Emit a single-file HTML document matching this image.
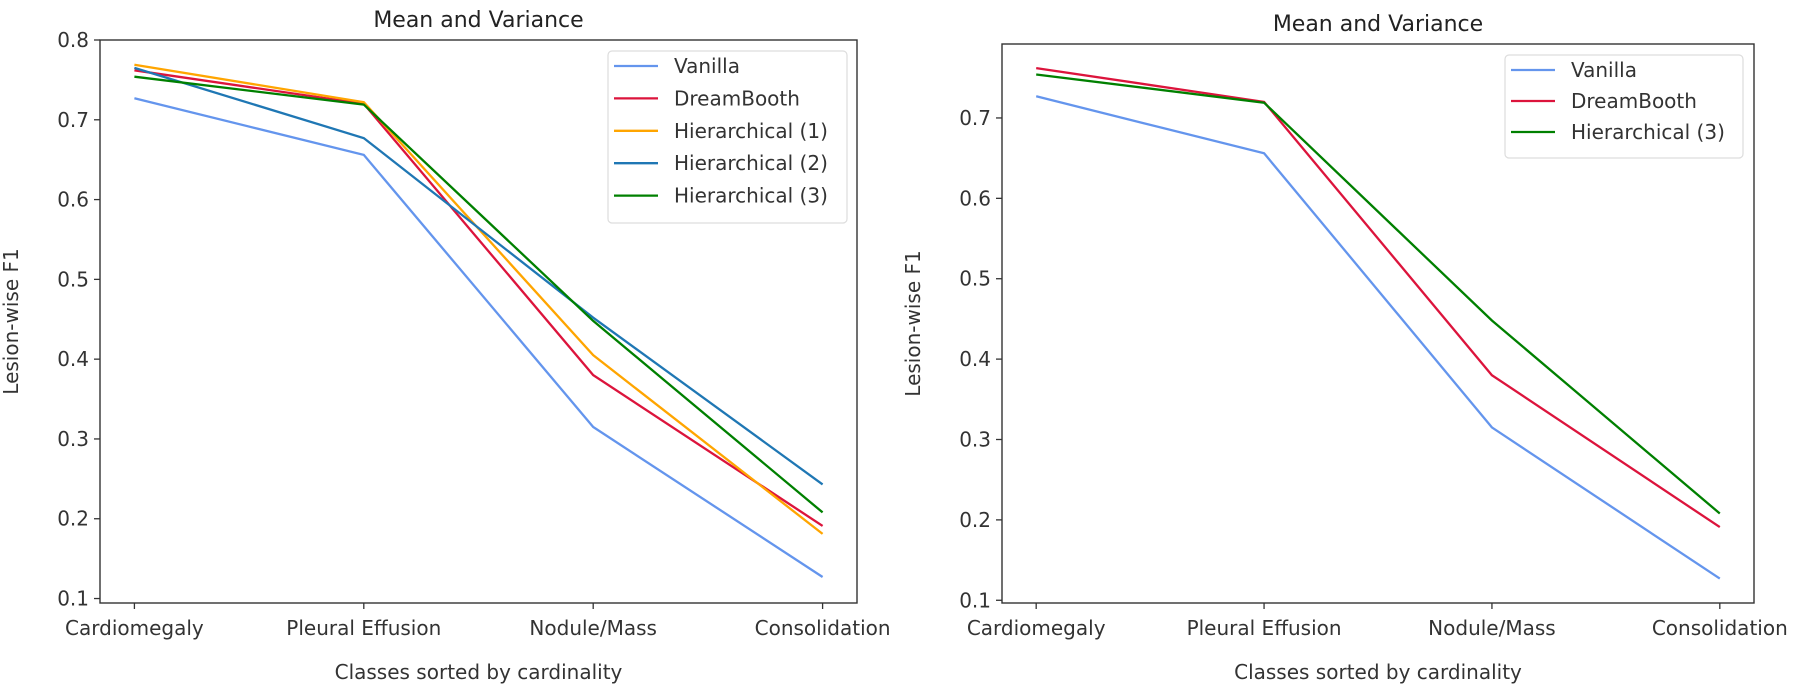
<!DOCTYPE html>
<html><head><meta charset="utf-8"><style>
html,body{margin:0;padding:0;background:#fff;}
svg{display:block;font-family:"DejaVu Sans","Liberation Sans",sans-serif;}
</style></head><body>
<svg id="fig" width="1800" height="689" viewBox="0 0 1800 689"></svg>
<script>
const categories = ["Cardiomegaly","Pleural Effusion","Nodule/Mass","Consolidation"];
const yTicks = [0.1,0.2,0.3,0.4,0.5,0.6,0.7,0.8];
const rightYTicks = [0.1,0.2,0.3,0.4,0.5,0.6,0.7];
const vanilla = [0.727,0.656,0.315,0.127];
const dreambooth = [0.762,0.720,0.380,0.191];
const hier1 = [0.769,0.722,0.405,0.181];
const hier2 = [0.765,0.677,0.452,0.243];
const hier3 = [0.754,0.719,0.448,0.208];
const seriesNames = ["Vanilla","DreamBooth","Hierarchical (1)","Hierarchical (2)","Hierarchical (3)"];
const seriesColors = ["#6495ED","#DC143C","#FFA500","#1f77b4","#008000"];

const NS="http://www.w3.org/2000/svg";
const svg=document.getElementById('fig');
function mk(tag,attrs,parent){const e=document.createElementNS(NS,tag);for(const k in attrs)e.setAttribute(k,attrs[k]);(parent||svg).appendChild(e);return e;}
function txt(s,attrs,parent){const e=mk('text',attrs,parent);e.textContent=s;return e;}

function drawPanel(cfg){
  const g=mk('g',{});
  
  
  const {x0,x1,y0,y1,ymin,ymax}=cfg;
  const xs=i=>x0+(x1-x0)*(i-(-0.15))/3.3;
  const ys=v=>y1-(y1-y0)*(v-ymin)/(ymax-ymin);
  const t=txt('Mean and Variance',{x:(x0+x1)/2,y:y0-13,'text-anchor':'middle','font-size':22,fill:'#222'},g);
  
  
  cfg.yt.forEach(v=>{
    const y=ys(v);
    mk('line',{x1:x0-6,x2:x0,y1:y,y2:y,stroke:'#333','stroke-width':1.3},g);
    const l=txt(v.toFixed(1),{x:x0-11,y:y+7,'text-anchor':'end','font-size':20,fill:'#333'},g);
    
    
  });
  categories.forEach((c,i)=>{
    const x=xs(i);
    mk('line',{x1:x,x2:x,y1:y1,y2:y1+6,stroke:'#333','stroke-width':1.3},g);
    const l=txt(c,{x:x,y:y1+32,'text-anchor':'middle','font-size':20,fill:'#333'},g);
    
    
  });
  const xl=txt('Classes sorted by cardinality',{x:(x0+x1)/2,y:y1+76,'text-anchor':'middle','font-size':20,fill:'#333'},g);
  
  
  const yl=txt('Lesion-wise F1',{x:0,y:0,'text-anchor':'middle','font-size':20,fill:'#333',transform:`translate(${x0-82},${(y0+y1)/2}) rotate(-90)`},g);
  
  
  cfg.series.forEach(s=>{
    const pts=s.vals.map((v,i)=>xs(i).toFixed(1)+','+ys(v).toFixed(1)).join(' ');
    const p=mk('polyline',{points:pts,fill:'none',stroke:seriesColors[s.idx],'stroke-width':2.3},g);
    
    
  });
  mk('rect',{x:x0,y:y0,width:x1-x0,height:y1-y0,fill:'none',stroke:'#333','stroke-width':1.4},g);
  const L=cfg.legend;
  const lg=mk('g',{},g);
  
  
  mk('rect',{x:L.x,y:L.y,width:L.w,height:L.rowH*cfg.series.length+10,rx:4,fill:'#fff','fill-opacity':0.8,stroke:'#ddd','stroke-width':1.2},lg);
  cfg.series.forEach((s,k)=>{
    const cy=L.y+15+k*L.rowH;
    mk('line',{x1:L.x+6,x2:L.x+50,y1:cy,y2:cy,stroke:seriesColors[s.idx],'stroke-width':2.3},lg);
    const e=txt(seriesNames[s.idx],{x:L.x+66,y:cy+7,'font-size':20,fill:'#333'},lg);
    
    
  });
}
drawPanel({name:'left-chart',x0:100,x1:857,y0:40,y1:603,ymin:0.0944,ymax:0.8,yt:yTicks,
  series:[{idx:0,vals:vanilla},{idx:1,vals:dreambooth},{idx:2,vals:hier1},{idx:3,vals:hier2},{idx:4,vals:hier3}],
  legend:{x:608,y:51,w:239,rowH:32.4}});
drawPanel({name:'right-chart',x0:1002,x1:1754,y0:44,y1:603,ymin:0.0966,ymax:0.792,yt:rightYTicks,
  series:[{idx:0,vals:vanilla},{idx:1,vals:dreambooth},{idx:4,vals:hier3}],
  legend:{x:1505,y:55,w:238,rowH:31}});
</script>
</body></html>
